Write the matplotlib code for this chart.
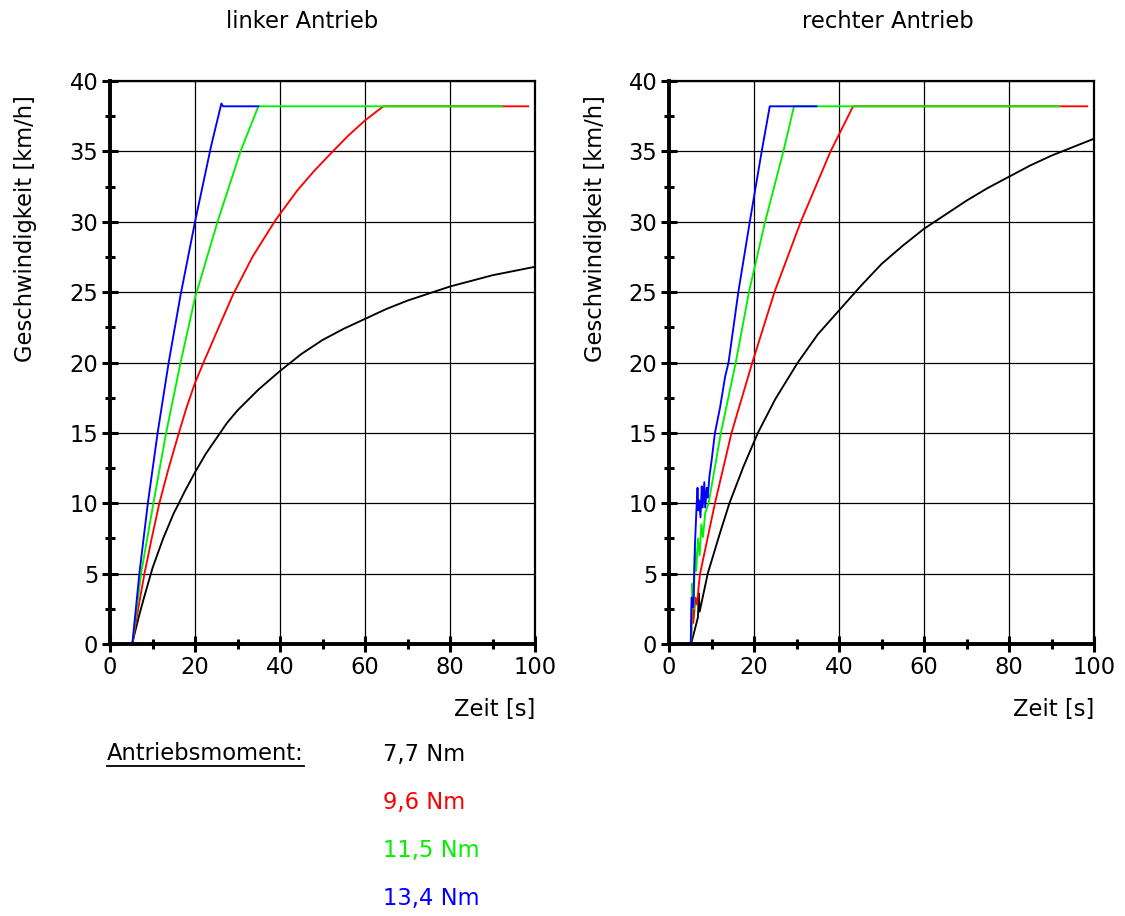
import matplotlib
matplotlib.use('Agg')
import matplotlib.pyplot as plt
from matplotlib.ticker import MultipleLocator
from matplotlib.lines import Line2D

plt.rcParams['font.family'] = ['DejaVu Sans']

# Antriebsmomente und Farben
momente = ['7,7 Nm', '9,6 Nm', '11,5 Nm', '13,4 Nm']
farben = ['black', '#ff0000', '#00f000', '#0000ff']

# linker Antrieb (Zeit [s], Geschwindigkeit [km/h])
t_l_77 = [3.5, 5.2, 6, 7, 8, 10, 12.5, 15, 16.2, 17.5, 20, 22.5, 25, 27.5, 30, 35, 40,
          45, 50, 55, 60, 65, 70, 75, 80, 85, 90, 95, 100]
v_l_77 = [0, 0, 1.0, 2.2, 3.3, 5.4, 7.5, 9.3, 10, 10.8, 12.2, 13.5, 14.6, 15.7, 16.6, 18.1, 19.4,
          20.6, 21.6, 22.4, 23.1, 23.8, 24.4, 24.9, 25.4, 25.8, 26.2, 26.5, 26.8]
t_l_96 = [3.5, 5.25, 6.5, 8.1, 9.8, 11.6, 13.8, 16.2, 18, 20, 22, 25, 28.9, 33.5, 38.9,
          44, 48, 52.1, 56, 60, 64.3, 98.4]
v_l_96 = [0, 0, 2.3, 5, 7.5, 10, 12.5, 15, 16.8, 18.55, 20, 22.1, 24.8, 27.5, 30.1,
          32.2, 33.6, 34.9, 36.1, 37.2, 38.2, 38.2]
t_l_115 = [3.5, 5.25, 7.3, 10.2, 13.2, 16.6, 20, 25.3, 30.7, 34.9, 92.2]
v_l_115 = [0, 0, 5, 10, 15, 20, 24.6, 30, 35, 38.2, 38.2]
t_l_134 = [3.5, 5.25, 6.9, 8.9, 11.2, 13.8, 16.6, 20, 23.8, 26.2, 26.6, 34.9]
v_l_134 = [0, 0, 5, 10, 15, 20, 24.8, 30, 35.4, 38.4, 38.2, 38.2]

# rechter Antrieb
t_r_77 = [3.5, 5.2, 6.8, 7.0, 7.2, 9.1, 12, 14.2, 17.5, 20.9, 25, 30.3, 35, 40, 45, 50,
          55, 60, 65, 70, 75, 80, 85, 90, 95, 100]
v_r_77 = [0, 0, 1.9, 3.6, 2.3, 5, 7.9, 10, 12.6, 15, 17.4, 20, 22.0, 23.7, 25.4, 27.0,
          28.3, 29.5, 30.5, 31.5, 32.4, 33.2, 34.0, 34.7, 35.3, 35.9]
t_r_96 = [3.5, 5.2, 5.4, 5.7, 6.2, 6.6, 7.0, 7.3, 10.8, 14.7, 19.6, 24.8, 31, 38, 43.3, 98.4]
v_r_96 = [0, 0, 3.1, 1.5, 3.3, 2.8, 4.2, 5, 10, 15, 20, 25, 30, 35, 38.2, 38.2]
t_r_115 = [3.5, 5.2, 5.5, 5.8, 6.1, 6.4, 6.8, 7.2, 7.6, 8.0, 8.5, 9.3, 12.2, 15.7,
           18.8, 22.6, 26.9, 29.4, 91.9]
v_r_115 = [0, 0, 4.3, 2.5, 6.8, 5.2, 7.5, 6.3, 8.5, 7.6, 9.3, 10, 15, 20,
           25, 30, 35, 38.2, 38.2]
t_r_134 = [3.5, 5.1, 5.3, 5.7, 6.1, 6.5, 6.7, 6.9, 7.1, 7.4, 7.7, 7.9, 8.3, 8.5,
           8.9, 9.1, 9.5, 10.0, 10.8, 12.0, 13.2, 14.0, 16.3, 19.0, 21.8, 23.7, 34.7]
v_r_134 = [0, 0, 3.3, 2.6, 7.1, 9.9, 11.1, 9.5, 10.2, 9.0, 11.2, 9.7, 11.5, 9.7,
           11.1, 10.4, 11.9, 13.0, 15.0, 16.8, 19.0, 20, 25, 30, 35, 38.2, 38.2]

links = [(t_l_77, v_l_77), (t_l_96, v_l_96), (t_l_115, v_l_115), (t_l_134, v_l_134)]
rechts = [(t_r_77, v_r_77), (t_r_96, v_r_96), (t_r_115, v_r_115), (t_r_134, v_r_134)]

fig = plt.figure(figsize=(11.25, 9.16), dpi=100)
ax_l = fig.add_axes([0.0978, 0.2969, 0.3778, 0.6147])
ax_r = fig.add_axes([0.5947, 0.2969, 0.3778, 0.6147])

fs = 16.3

for ax, kurven in [(ax_l, links), (ax_r, rechts)]:
    for (t, v), c in zip(kurven, farben):
        ax.plot(t, v, color=c, lw=1.35)
    ax.set_xlim(0, 100)
    ax.set_ylim(0, 40)
    ax.xaxis.set_major_locator(MultipleLocator(20))
    ax.xaxis.set_minor_locator(MultipleLocator(10))
    ax.yaxis.set_major_locator(MultipleLocator(5))
    ax.yaxis.set_minor_locator(MultipleLocator(2.5))
    ax.grid(True, which='major', color='black', lw=0.9)
    ax.tick_params(which='major', direction='inout', length=11, width=2.2,
                   labelsize=fs, pad=3)
    ax.tick_params(which='minor', direction='inout', length=7, width=2.2)
    ax.spines['left'].set_linewidth(2.8)
    ax.spines['bottom'].set_linewidth(2.8)
    ax.spines['top'].set_linewidth(1.6)
    ax.spines['right'].set_linewidth(1.6)
    ax.text(1.0, -0.117, 'Zeit [s]', transform=ax.transAxes, ha='right',
            va='center', fontsize=fs)

ax_l.text(-0.2, 0.975, 'Geschwindigkeit [km/h]', transform=ax_l.transAxes,
          rotation=90, ha='center', va='top', fontsize=fs)
ax_r.text(-0.172, 0.975, 'Geschwindigkeit [km/h]', transform=ax_r.transAxes,
          rotation=90, ha='center', va='top', fontsize=fs)

fig.text(302 / 1125, 1 - 22 / 916, 'linker Antrieb', ha='center', va='center', fontsize=fs)
fig.text(888 / 1125, 1 - 22 / 916, 'rechter Antrieb', ha='center', va='center', fontsize=fs)

# Legende
titel = fig.text(107 / 1125, 1 - 753 / 916, 'Antriebsmoment:', ha='left',
                 va='center', fontsize=fs)
y_pos = [755, 803, 850, 899]
for m, c, y in zip(momente, farben, y_pos):
    fig.text(383 / 1125, 1 - y / 916, m, color=c, ha='left', va='center', fontsize=fs)

# Unterstreichung
fig.canvas.draw()
bb = titel.get_window_extent()
y_line = bb.y0 - 1
fig.add_artist(Line2D([bb.x0 / fig.bbox.width, bb.x1 / fig.bbox.width],
                      [y_line / fig.bbox.height] * 2, color='black', lw=1.3))

fig.savefig('out.png', dpi=100)
